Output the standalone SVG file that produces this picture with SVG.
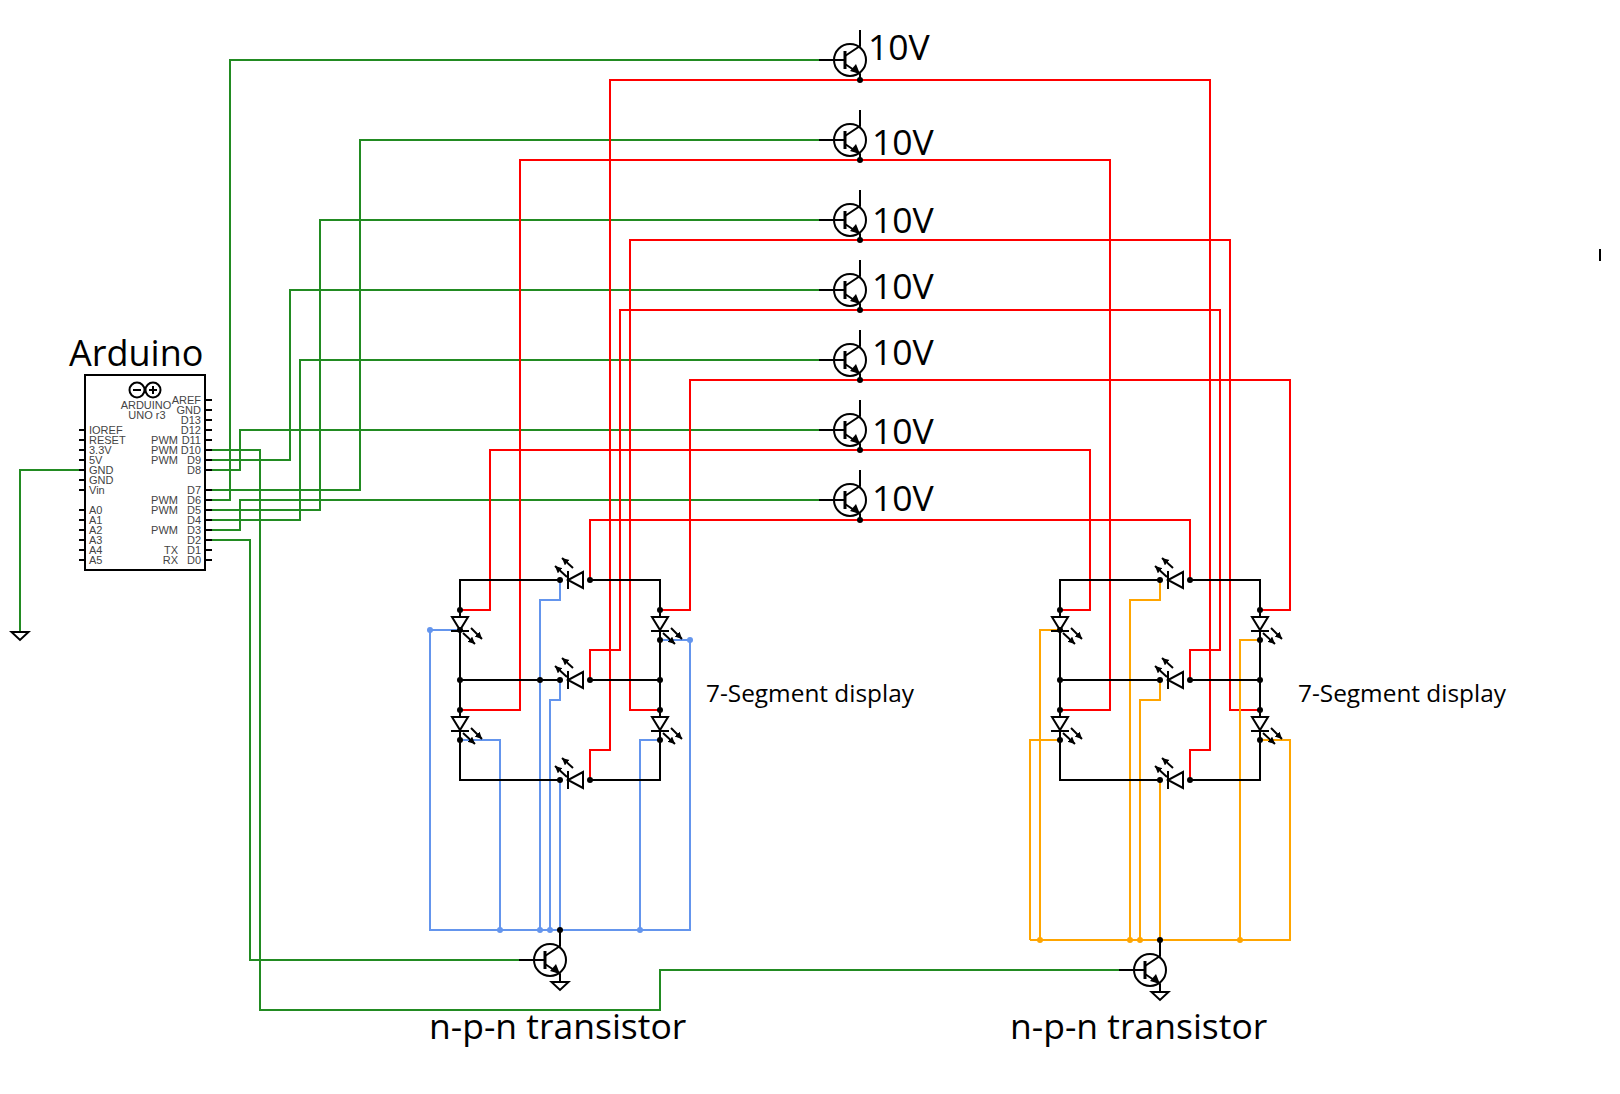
<svg xmlns="http://www.w3.org/2000/svg" xmlns:xlink="http://www.w3.org/1999/xlink" width="1620" height="1094" viewBox="0 0 1620 1094">
<style>
.w{fill:none;stroke-width:2}
.g{stroke:#228b22}.r{stroke:#ff0000}.b{stroke:#6495ed}.o{stroke:#ffa500}.k{stroke:#000}
.sym{fill:none;stroke:#000;stroke-width:2}
.tri{fill:#fff;stroke:#000;stroke-width:2}
.arrow{stroke:#000;stroke-width:2;fill:none;marker-end:url(#ah)}
.pin{stroke:#000;stroke-width:2;fill:none}
.lbl{font-family:"Open Sans",sans-serif;fill:#000}
.big{font-size:36px}.npn{font-size:35.500px}.v{font-size:35.500px}.seg{font-size:24.400px}
.ard{font-family:"Liberation Sans",Arial,sans-serif;font-size:11px;fill:#444}
.e{text-anchor:end}
.dk{fill:#000}.db{fill:#6495ed}.dy{fill:#ffa500}
</style>
<defs>
<marker id="ah" markerWidth="9" markerHeight="8" refX="7" refY="3.500" orient="auto" markerUnits="userSpaceOnUse"><path d="M0,0L7,3.500L0,7Z" fill="#000"/></marker>
<g id="tr">
<circle r="16" class="sym"/>
<path class="sym" d="M-31,0H-5M-5,4L10,14V16M-5,-4L10,-14V-16"/>
<path d="M-5,-9V9" stroke="#000" stroke-width="3" fill="none"/>
<path d="M10,14L0,11L6,4Z" fill="#000"/>
</g>
<g id="gnd"><path class="sym" d="M-8.500,0H8.500L0,8Z"/></g>
<g id="ledV">
<path class="tri" d="M-8,7H8L0,20Z"/><path class="sym" d="M-9,21H9"/>
<path class="arrow" d="M3,23L15,34"/><path class="arrow" d="M11,18L22,29"/>
</g>
<g id="ledH">
<path class="tri" d="M23,-8V8L8,0Z"/><path class="sym" d="M8,-9V9"/>
<path class="arrow" d="M7,-3L-5,-14"/><path class="arrow" d="M13,-12L2,-22"/>
</g>
</defs>
<rect width="1620" height="1094" fill="#fff"/>

<g id="connectors">
<g class="w g">
<path d="M79,470H20V632"/>
<path d="M205,500H230V60H820"/>
<path d="M205,490H360V140H820"/>
<path d="M200,510H320V220H820"/>
<path d="M205,460H290V290H820"/>
<path d="M205,520H300V360H820"/>
<path d="M205,470H240V430H820"/>
<path d="M205,530H240V500H820"/>
<path d="M205,540H250V960H520"/>
<path d="M205,450H260V1010H660V970H1120"/>
</g>
<g class="w r">
<path d="M590,780V750H610V80H1210V750H1190V780"/>
<path d="M460,710H520V160H1110V710H1060"/>
<path d="M660,710H630V240H1230V710H1260"/>
<path d="M590,680V650H620V310H1220V650H1190V680"/>
<path d="M660,610H690V380H1290V610H1260"/>
<path d="M460,610H490V450H1090V610H1060"/>
<path d="M590,580V520H1190V580"/>
</g>
<g class="w b">
<path d="M430,630V930H690V640H660"/>
<path d="M430,630H460"/>
<path d="M500,930V740H460"/>
<path d="M540,930V600H560V580"/>
<path d="M550,930V700H560V680"/>
<path d="M560,930V780"/>
<path d="M640,930V740H660"/>
</g>
<g class="w o">
<path d="M1030,940H1290V740H1260"/>
<path d="M1030,940V740H1060"/>
<path d="M1040,940V630H1060"/>
<path d="M1130,940V600H1160V580"/>
<path d="M1140,940V700H1160V680"/>
<path d="M1160,940V780"/>
<path d="M1240,940V640H1260"/>
</g>
<g class="w k">
<path d="M560,580H460V780H560M590,580H660V780H590M460,680H560M590,680H660"/>
<path d="M1160,580H1060V780H1160M1190,580H1260V780H1190M1060,680H1160M1190,680H1260"/>
<path d="M560,930V944M560,976V982"/>
<path d="M1160,940V954M1160,986V992"/>
</g>
</g>

<g id="arduino">
<text class="lbl big" x="69" y="366">Arduino</text>
<rect x="85" y="375" width="120" height="195" fill="#fff" stroke="#000" stroke-width="2"/>
<path class="pin" d="M205,400h7M205,410h7M205,420h7M205,430h7M205,440h7M205,450h7M205,460h7M205,470h7M205,490h7M205,500h7M205,510h7M205,520h7M205,530h7M205,540h7M205,550h7M205,560h7"/>
<path class="pin" d="M79,430h6M79,440h6M79,450h6M79,460h6M79,470h6M79,480h6M79,490h6M79,510h6M79,520h6M79,530h6M79,540h6M79,550h6M79,560h6"/>
<circle cx="137" cy="390" r="7.500" class="sym"/><circle cx="153" cy="390" r="7.500" class="sym"/>
<path class="sym" d="M133,390h8M149,390h8M153,386v8"/>
<g class="ard">
<text x="146" y="409" text-anchor="middle">ARDUINO</text>
<text x="147" y="419" text-anchor="middle">UNO r3</text>
<text x="89" y="434">IOREF</text><text x="89" y="444">RESET</text><text x="89" y="454">3.3V</text><text x="89" y="464">5V</text><text x="89" y="474">GND</text><text x="89" y="484">GND</text><text x="89" y="494">Vin</text>
<text x="89" y="514">A0</text><text x="89" y="524">A1</text><text x="89" y="534">A2</text><text x="89" y="544">A3</text><text x="89" y="554">A4</text><text x="89" y="564">A5</text>
<text class="e" x="201" y="404">AREF</text><text class="e" x="201" y="414">GND</text><text class="e" x="201" y="424">D13</text><text class="e" x="201" y="434">D12</text><text class="e" x="201" y="444">D11</text><text class="e" x="201" y="454">D10</text><text class="e" x="201" y="464">D9</text><text class="e" x="201" y="474">D8</text><text class="e" x="201" y="494">D7</text><text class="e" x="201" y="504">D6</text><text class="e" x="201" y="514">D5</text><text class="e" x="201" y="524">D4</text><text class="e" x="201" y="534">D3</text><text class="e" x="201" y="544">D2</text><text class="e" x="201" y="554">D1</text><text class="e" x="201" y="564">D0</text>
<text class="e" x="178" y="444">PWM</text><text class="e" x="178" y="454">PWM</text><text class="e" x="178" y="464">PWM</text><text class="e" x="178" y="504">PWM</text><text class="e" x="178" y="514">PWM</text><text class="e" x="178" y="534">PWM</text><text class="e" x="178" y="554">TX</text><text class="e" x="178" y="564">RX</text>
</g>
</g>
<g id="ground-arduino"><use xlink:href="#gnd" x="20" y="632"/></g>

<g id="t1"><use xlink:href="#tr" x="850" y="60"/><path class="sym" d="M860,30V46"/><circle class="dk" cx="860" cy="80" r="3"/><path class="sym" d="M860,74V80"/><text class="lbl v" x="868" y="60">10V</text></g>
<g id="t2"><use xlink:href="#tr" x="850" y="140"/><path class="sym" d="M860,110V126"/><path class="sym" d="M860,154V160"/><circle class="dk" cx="860" cy="160" r="3"/><text class="lbl v" x="872" y="155">10V</text></g>
<g id="t3"><use xlink:href="#tr" x="850" y="220"/><path class="sym" d="M860,190V206"/><path class="sym" d="M860,234V240"/><circle class="dk" cx="860" cy="240" r="3"/><text class="lbl v" x="872" y="233">10V</text></g>
<g id="t4"><use xlink:href="#tr" x="850" y="290"/><path class="sym" d="M860,260V276"/><path class="sym" d="M860,304V310"/><circle class="dk" cx="860" cy="310" r="3"/><text class="lbl v" x="872" y="299">10V</text></g>
<g id="t5"><use xlink:href="#tr" x="850" y="360"/><path class="sym" d="M860,330V346"/><path class="sym" d="M860,374V380"/><circle class="dk" cx="860" cy="380" r="3"/><text class="lbl v" x="872" y="365">10V</text></g>
<g id="t6"><use xlink:href="#tr" x="850" y="430"/><path class="sym" d="M860,400V416"/><path class="sym" d="M860,444V450"/><circle class="dk" cx="860" cy="450" r="3"/><text class="lbl v" x="872" y="444">10V</text></g>
<g id="t7"><use xlink:href="#tr" x="850" y="500"/><path class="sym" d="M860,470V486"/><path class="sym" d="M860,514V520"/><circle class="dk" cx="860" cy="520" r="3"/><text class="lbl v" x="872" y="511">10V</text></g>

<g id="display-left">
<use xlink:href="#ledH" x="560" y="580"/><use xlink:href="#ledH" x="560" y="680"/><use xlink:href="#ledH" x="560" y="780"/>
<use xlink:href="#ledV" x="460" y="610"/><use xlink:href="#ledV" x="460" y="710"/><use xlink:href="#ledV" x="660" y="610"/><use xlink:href="#ledV" x="660" y="710"/>
<g class="dk"><circle cx="560" cy="580" r="3"/><circle cx="590" cy="580" r="3"/><circle cx="560" cy="680" r="3"/><circle cx="590" cy="680" r="3"/><circle cx="560" cy="780" r="3"/><circle cx="590" cy="780" r="3"/><circle cx="540" cy="680" r="3"/><circle cx="460" cy="610" r="3"/><circle cx="460" cy="630" r="3"/><circle cx="460" cy="680" r="3"/><circle cx="460" cy="710" r="3"/><circle cx="460" cy="740" r="3"/><circle cx="660" cy="610" r="3"/><circle cx="660" cy="640" r="3"/><circle cx="660" cy="680" r="3"/><circle cx="660" cy="710" r="3"/><circle cx="660" cy="740" r="3"/><circle cx="560" cy="930" r="3"/></g>
<g class="db"><circle cx="430" cy="630" r="3"/><circle cx="690" cy="640" r="3"/><circle cx="500" cy="930" r="3"/><circle cx="540" cy="930" r="3"/><circle cx="550" cy="930" r="3"/><circle cx="640" cy="930" r="3"/></g>
<text class="lbl seg" x="706" y="702">7-Segment display</text>
</g>
<g id="display-right">
<use xlink:href="#ledH" x="1160" y="580"/><use xlink:href="#ledH" x="1160" y="680"/><use xlink:href="#ledH" x="1160" y="780"/>
<use xlink:href="#ledV" x="1060" y="610"/><use xlink:href="#ledV" x="1060" y="710"/><use xlink:href="#ledV" x="1260" y="610"/><use xlink:href="#ledV" x="1260" y="710"/>
<g class="dk"><circle cx="1160" cy="580" r="3"/><circle cx="1190" cy="580" r="3"/><circle cx="1160" cy="680" r="3"/><circle cx="1190" cy="680" r="3"/><circle cx="1160" cy="780" r="3"/><circle cx="1190" cy="780" r="3"/><circle cx="1060" cy="610" r="3"/><circle cx="1060" cy="630" r="3"/><circle cx="1060" cy="680" r="3"/><circle cx="1060" cy="710" r="3"/><circle cx="1060" cy="740" r="3"/><circle cx="1260" cy="610" r="3"/><circle cx="1260" cy="640" r="3"/><circle cx="1260" cy="680" r="3"/><circle cx="1260" cy="710" r="3"/><circle cx="1260" cy="740" r="3"/><circle cx="1160" cy="940" r="3"/></g>
<g class="dy"><circle cx="1040" cy="940" r="3"/><circle cx="1130" cy="940" r="3"/><circle cx="1140" cy="940" r="3"/><circle cx="1240" cy="940" r="3"/></g>
<text class="lbl seg" x="1298" y="702">7-Segment display</text>
</g>
<g id="npn-left"><use xlink:href="#tr" x="550" y="960"/><use xlink:href="#gnd" x="560" y="982"/><text class="lbl npn" x="429" y="1039">n-p-n transistor</text></g>
<g id="npn-right"><use xlink:href="#tr" x="1150" y="970"/><use xlink:href="#gnd" x="1160" y="992"/><text class="lbl npn" x="1010" y="1039">n-p-n transistor</text></g>
<path id="mark" d="M1600,249V261" stroke="#000" stroke-width="2"/>
</svg>
